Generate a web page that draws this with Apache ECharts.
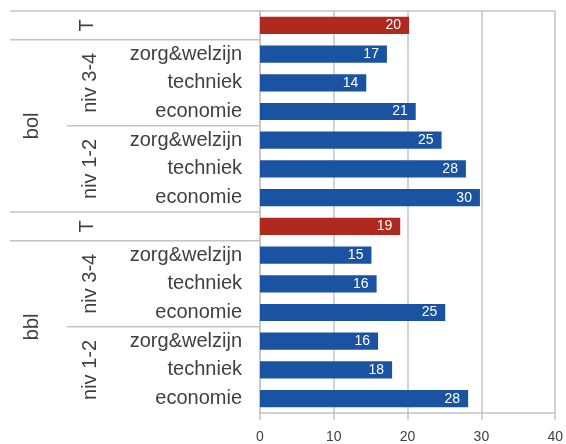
<!DOCTYPE html>
<html>
<head>
<meta charset="utf-8">
<script src="https://cdn.jsdelivr.net/npm/echarts@6/dist/echarts.min.js"></script>
<style>
  html, body { margin: 0; padding: 0; background: #fff; }
  #main { width: 566px; height: 444px; }
</style>
</head>
<body>
<div id="main"></div>
<script>
// rijen van boven naar beneden: per groep eerst T, dan niv 3-4, dan niv 1-2
const groupLabels = ['bol', 'bbl'];
const levelLabels = ['niv 3-4', 'niv 1-2'];
const itemLabels = ['zorg&welzijn', 'techniek', 'economie'];
const bolValues = [20.2, 17.2, 14.4, 21.1, 24.6, 27.9, 29.8]; // T, niv3-4 x3, niv1-2 x3
const bblValues = [19.0, 15.1, 15.8, 25.1, 16.0, 17.9, 28.2];
const xTicks = [0, 10, 20, 30, 40];

const RED = '#B0291F';
const BLUE = '#1B53A3';
const LINE = '#c4c4c4';
const TXT = '#404040';
const FONT = "'Liberation Sans', Arial, sans-serif";

// rijen opbouwen
let rowKeys = [], rowNames = [], barData = [];
groupLabels.forEach((g, gi) => {
    let vals = gi === 0 ? bolValues : bblValues;
    rowKeys.push(g + '|T');
    rowNames.push('');
    barData.push({value: vals[0], itemStyle: {color: RED}});
    levelLabels.forEach((lv, li) => {
        itemLabels.forEach((it, ii) => {
            rowKeys.push(g + '|' + lv + '|' + it);
            rowNames.push(it);
            barData.push({value: vals[1 + li * 3 + ii], itemStyle: {color: BLUE}});
        });
    });
});

let chart = echarts.init(document.getElementById('main'));
let option = {
    animation: false,
    grid: {left: 260, right: 10, top: 11, bottom: 31},
    xAxis: {
        type: 'value',
        min: xTicks[0],
        max: xTicks[xTicks.length - 1],
        interval: 10,
        axisLine: {show: true, lineStyle: {color: LINE, width: 1.5}},
        axisTick: {show: true, length: 7, lineStyle: {color: LINE, width: 1.5}},
        axisLabel: {color: TXT, fontSize: 14, fontFamily: FONT, margin: 17},
        splitLine: {show: true, lineStyle: {color: LINE, width: 1.5}}
    },
    yAxis: {
        type: 'category',
        inverse: true,
        data: rowKeys,
        axisLine: {show: true, lineStyle: {color: LINE, width: 1.5}},
        axisTick: {show: false},
        axisLabel: {
            color: TXT, fontSize: 20, fontFamily: FONT, margin: 18,
            formatter: (v, i) => rowNames[i]
        }
    },
    series: [{
        type: 'bar',
        data: barData,
        barCategoryGap: '40%',
        label: {
            show: true,
            position: 'insideRight',
            distance: 8,
            color: '#fff',
            fontSize: 14,
            fontFamily: FONT,
            formatter: p => Math.round(p.value)
        }
    }]
};
chart.setOption(option);

// scheidingslijnen en groepslabels links van de as, via de schaal van de as
let gridRect = chart.getModel().getComponent('grid', 0).coordinateSystem.getRect();
let cy = i => chart.convertToPixel({yAxisIndex: 0}, rowKeys[i]);
let band = cy(1) - cy(0);
let edge = i => cy(i) - band / 2; // bovenrand van rij i
let xFar = 10, xMid = 67, xAxis = gridRect.x;

let graphics = [];
let hline = (y, x1, x2) => graphics.push({
    type: 'line', silent: true,
    shape: {x1: x1, y1: y, x2: x2, y2: y},
    style: {stroke: LINE, lineWidth: 1.5}
});
let vtext = (txt, x, y) => graphics.push({
    type: 'text', silent: true, x: x, y: y, rotation: Math.PI / 2,
    style: {text: txt, fill: TXT, font: '20px ' + FONT, align: 'center', verticalAlign: 'middle'}
});

hline(edge(0), xFar, gridRect.x + gridRect.width);
groupLabels.forEach((g, gi) => {
    let base = gi * 7;
    hline(edge(base + 1), xFar, xAxis);
    hline(edge(base + 4), xMid, xAxis);
    hline(edge(base + 7), xFar, xAxis);
    vtext('T', 87, cy(base));
    vtext(g, 32, edge(base + 4));
    vtext(levelLabels[0], 90, cy(base + 2));
    vtext(levelLabels[1], 90, cy(base + 5));
});
chart.setOption({graphic: graphics});
</script>
</body>
</html>
